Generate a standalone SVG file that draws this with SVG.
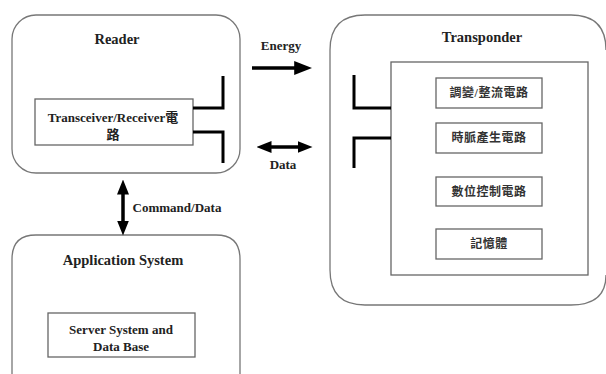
<svg xmlns="http://www.w3.org/2000/svg" width="606" height="374" viewBox="0 0 606 374">
<style>
.outer{fill:#fff;stroke:#777;stroke-width:1.3}
.box{fill:#fff;stroke:#666;stroke-width:1.3}
.ant{fill:none;stroke:#000;stroke-width:3}
.arr{fill:none;stroke:#000;stroke-width:3.5}
.t{font-family:"Liberation Serif","Noto Sans CJK TC",serif;font-weight:bold;fill:#222;text-anchor:middle}
.h{font-size:14.5px}
.s{font-size:13px}
.c{font-family:"Liberation Serif","Noto Sans CJK TC",serif;font-size:12px;font-weight:bold;fill:#333;text-anchor:middle;letter-spacing:0.5px}
</style>
<defs>
<marker id="ahb" viewBox="0 0 10 10" refX="1" refY="5" markerWidth="18" markerHeight="14" orient="auto-start-reverse" markerUnits="userSpaceOnUse" preserveAspectRatio="none">
<path d="M0,0 L10,5 L0,10 Z" fill="#000"/>
</marker>
<marker id="ahs" viewBox="0 0 10 10" refX="1" refY="5" markerWidth="15" markerHeight="12" orient="auto-start-reverse" markerUnits="userSpaceOnUse" preserveAspectRatio="none">
<path d="M0,0 L10,5 L0,10 Z" fill="#000"/>
</marker>
</defs>
<rect width="606" height="374" fill="#fff"/>
<g id="reader">
<rect class="outer" x="12" y="15" width="228" height="158" rx="24" ry="24"/>
<text class="t h" x="117" y="44">Reader</text>
<g id="transceiver">
<rect class="box" x="35" y="99" width="158" height="46"/>
<text class="t s" x="113" y="122">Transceiver/Receiver電</text>
<text class="t s" x="113" y="139">路</text>
</g>
<path class="ant" d="M193,108 H223 V76 M193,132 H223 V163"/>
</g>
<g id="application">
<path class="outer" d="M12,374 V259 Q12,235 36,235 H216 Q240,235 240,259 V374"/>
<text class="t h" x="123" y="265">Application System</text>
<g id="server">
<rect class="box" x="48" y="313" width="147" height="44"/>
<text class="t s" x="121" y="334">Server System and</text>
<text class="t s" x="121" y="351">Data Base</text>
</g>
</g>
<g id="transponder">
<path class="outer" d="M330,50 Q330,15 365,15 H571 Q606,15 606,50 M330,50 V270 Q330,305 365,305 H571 Q606,305 606,275"/>
<text class="t h" x="482" y="42">Transponder</text>
<rect class="box" x="391" y="62" width="197" height="213"/>
<g id="n1"><rect class="box" x="436" y="78" width="106" height="30"/><text class="c" x="489" y="97">調變/整流電路</text></g>
<g id="n2"><rect class="box" x="436" y="123" width="106" height="30"/><text class="c" x="489" y="142">時脈產生電路</text></g>
<g id="n3"><rect class="box" x="436" y="177" width="106" height="29"/><text class="c" x="489" y="196">數位控制電路</text></g>
<g id="n4"><rect class="box" x="436" y="229" width="106" height="30"/><text class="c" x="489" y="248">記憶體</text></g>
<path class="ant" d="M354,75 V108 H391 M391,138 H354 V168"/>
</g>
<g id="connectors">
<line class="arr" x1="252" y1="68" x2="296" y2="68" marker-end="url(#ahb)"/>
<text class="t s" x="281" y="50">Energy</text>
<line class="arr" x1="270" y1="147" x2="299" y2="147" stroke-width="2.5" marker-start="url(#ahs)" marker-end="url(#ahs)"/>
<text class="t s" x="283" y="169">Data</text>
<line class="arr" x1="123" y1="193" x2="123" y2="222" marker-start="url(#ahs)" marker-end="url(#ahs)"/>
<text class="t s" x="177" y="212">Command/Data</text>
</g>
</svg>
